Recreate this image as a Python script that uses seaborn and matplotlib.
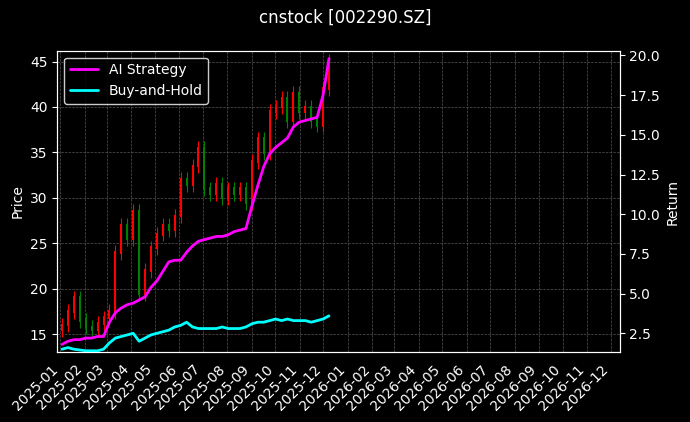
import numpy as np
import pandas as pd
import matplotlib
matplotlib.use("Agg")
import matplotlib.pyplot as plt
import matplotlib.dates as mdates
import seaborn as sns

# weekly closes
closes = [16.0, 17.5, 19.0, 16.5,
          15.8, 15.5, 16.2, 16.8,
          17.5, 24.0, 27.0, 25.5,
          28.5, 19.5, 22.0, 24.5,
          26.0, 27.0, 26.5, 28.0,
          32.0, 31.5, 33.5, 35.5,
          31.0, 30.5, 31.5, 30.0,
          31.0, 30.5, 31.0, 29.5,
          34.0, 36.5, 35.0, 39.5,
          40.0, 41.0, 38.5, 41.5,
          39.5, 40.0, 38.5, 38.0,
          42.0, 45.0]
ai_return = [1.8, 2.0, 2.1, 2.1,
             2.2, 2.2, 2.3, 2.3,
             3.2, 3.8, 4.1, 4.3,
             4.4, 4.6, 4.8, 5.4,
             5.8, 6.4, 7.0, 7.1,
             7.1, 7.6, 8.0, 8.3,
             8.4, 8.5, 8.6, 8.6,
             8.7, 8.9, 9.0, 9.1,
             10.5, 11.8, 13.0, 13.8,
             14.2, 14.5, 14.8, 15.5,
             15.8, 15.9, 16.0, 16.1,
             17.5, 19.8]
bh_return = [1.5, 1.6, 1.5, 1.45,
             1.4, 1.4, 1.4, 1.5,
             1.9, 2.2, 2.3, 2.4,
             2.5, 2.0, 2.2, 2.4,
             2.5, 2.6, 2.7, 2.9,
             3.0, 3.2, 2.9, 2.8,
             2.8, 2.8, 2.8, 2.9,
             2.8, 2.8, 2.8, 2.9,
             3.1, 3.2, 3.2, 3.3,
             3.4, 3.3, 3.4, 3.3,
             3.3, 3.3, 3.2, 3.3,
             3.4, 3.6]

dates = pd.date_range("2025-01-03", "2025-12-08", periods=len(closes))
df = pd.DataFrame({"Date": dates, "Close": closes,
                   "AI Strategy": ai_return, "Buy-and-Hold": bh_return})
df["Open"] = df["Close"].shift(1).fillna(df["Close"].iloc[0] - 0.5)

plt.style.use("dark_background")
sns.set_style("darkgrid", {"axes.facecolor": "black", "figure.facecolor": "black",
                           "grid.color": "#555555", "grid.linestyle": "--",
                           "axes.edgecolor": "white", "text.color": "white",
                           "axes.labelcolor": "white", "xtick.color": "white",
                           "ytick.color": "white"})
plt.rcParams["font.family"] = ["DejaVu Sans"]

fig, ax = plt.subplots(figsize=(6.9, 4.22), dpi=100)
fig.patch.set_facecolor("black")
ax.set_facecolor("black")

# candles
for _, r in df.iterrows():
    col = "red" if r["Close"] >= r["Open"] else "green"
    lo, hi = min(r["Open"], r["Close"]), max(r["Open"], r["Close"])
    ax.vlines(r["Date"], lo - 0.8, hi + 0.8, color=col, linewidth=0.8)
    ax.bar(r["Date"], hi - lo + 0.3, bottom=lo - 0.15, width=2.5, color=col,
           edgecolor=col, linewidth=0)

ax.set_ylabel("Price")
ax.set_ylim(13, 46.2)
ax.set_xlim(pd.Timestamp("2024-12-28"), pd.Timestamp("2026-12-12"))
ax.grid(True, color="#555555", linestyle="--", linewidth=0.5)

ax2 = ax.twinx()
sns.lineplot(data=df, x="Date", y="AI Strategy", ax=ax2, color="magenta",
             linewidth=2, label="AI Strategy")
sns.lineplot(data=df, x="Date", y="Buy-and-Hold", ax=ax2, color="cyan",
             linewidth=2, label="Buy-and-Hold")
ax2.set_ylabel("Return")
ax2.set_ylim(1.3, 20.3)
ax2.grid(False)
ax2.legend(loc="upper left", facecolor="black", edgecolor="white", labelcolor="white")

ax.xaxis.set_major_locator(mdates.MonthLocator())
ax.xaxis.set_major_formatter(mdates.DateFormatter("%Y-%m"))
plt.setp(ax.get_xticklabels(), rotation=45, ha="right")
ax.set_xlabel("")
ax2.set_xlabel("")
for a in (ax, ax2):
    for s in a.spines.values():
        s.set_color("white")

fig.suptitle("cnstock [002290.SZ]", color="white")
fig.subplots_adjust(left=0.083, right=0.898, top=0.88, bottom=0.165)
fig.savefig("out.png", dpi=100, facecolor="black")
